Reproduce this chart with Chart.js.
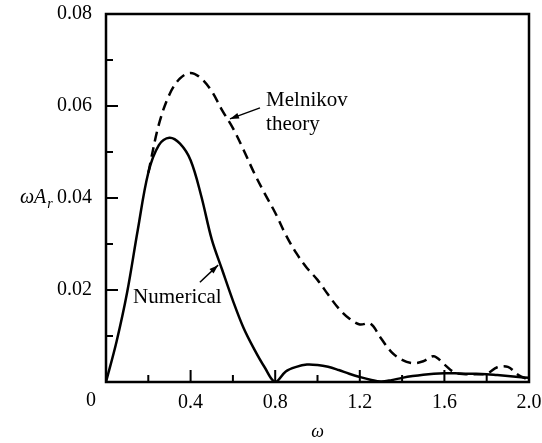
<!DOCTYPE html>
<html>
<head>
<meta charset="utf-8">
<script src="https://cdn.jsdelivr.net/npm/chart.js@4.4.1/dist/chart.umd.min.js"></script>
<style>
  html, body { margin: 0; padding: 0; background: #fff; }
  #wrap { width: 542px; height: 443px; }
</style>
</head>
<body>
<div id="wrap"><canvas id="chart"></canvas></div>
<script>
// omega grid (step 0.05)
const omega = [0, 0.05, 0.1, 0.15, 0.2, 0.25, 0.3, 0.35, 0.4, 0.45, 0.5, 0.55, 0.6, 0.65, 0.7, 0.75, 0.8,
               0.85, 0.9, 0.95, 1.0, 1.05, 1.1, 1.15, 1.2, 1.25, 1.3, 1.35, 1.4, 1.45, 1.5, 1.55, 1.6,
               1.65, 1.7, 1.75, 1.8, 1.85, 1.9, 1.95, 2.0];

// omega * A_r, numerical result (solid)
const numerical = [0, 0.0088, 0.0195, 0.033, 0.0455, 0.0515, 0.0531, 0.0518, 0.0482, 0.0405, 0.031, 0.0243, 0.0177, 0.0118, 0.0072, 0.0032, 0,
                   0.0023, 0.0033, 0.0038, 0.0037, 0.0033, 0.0026, 0.0018, 0.0011, 0.0005, 0.0001, 0.0004, 0.0009, 0.0013, 0.0016, 0.0018, 0.0019,
                   0.0019, 0.0018, 0.0018, 0.0017, 0.0015, 0.0013, 0.0011, 0.0009];

// Melnikov theory (dashed), only drawn where it leaves the numerical curve
const melnikov = [null, null, null, null, 0.0455, 0.056, 0.0625, 0.066, 0.0672, 0.066, 0.0632, 0.059, 0.0552, 0.0505, 0.0455, 0.041, 0.0368,
                  0.032, 0.028, 0.0248, 0.0222, 0.019, 0.016, 0.0138, 0.0125, 0.0127, 0.0095, 0.0065, 0.0048, 0.0041, 0.0045, 0.0056, 0.0038,
                  0.002, 0.0017, 0.0017, 0.0018, 0.0032, 0.0033, 0.0015, 0.0005];

const xTicks = [0, 0.4, 0.8, 1.2, 1.6, 2.0];
const xMinor = [0.2, 0.6, 1.0, 1.4, 1.8];
const yTicks = [0, 0.02, 0.04, 0.06, 0.08];
const yMinor = [0.01, 0.03, 0.05, 0.07];

const SERIF = '"Liberation Serif", "DejaVu Serif", serif';

function arrow(ctx, x0, y0, x1, y1) {
    ctx.beginPath();
    ctx.moveTo(x0, y0);
    ctx.lineTo(x1, y1);
    ctx.stroke();
    const a = Math.atan2(y1 - y0, x1 - x0);
    ctx.beginPath();
    ctx.moveTo(x1, y1);
    ctx.lineTo(x1 - 9 * Math.cos(a) + 3 * Math.sin(a), y1 - 9 * Math.sin(a) - 3 * Math.cos(a));
    ctx.lineTo(x1 - 9 * Math.cos(a) - 3 * Math.sin(a), y1 - 9 * Math.sin(a) + 3 * Math.cos(a));
    ctx.closePath();
    ctx.fill();
}

// box, inward ticks, labels and arrows
const decorations = {
    id: 'decorations',
    afterDraw(chart) {
        const { ctx, chartArea: a, scales: { x, y } } = chart;
        ctx.save();
        ctx.strokeStyle = '#000';
        ctx.fillStyle = '#000';
        ctx.lineWidth = 2.5;
        ctx.strokeRect(a.left, a.top, a.right - a.left, a.bottom - a.top);

        ctx.lineWidth = 2;
        ctx.beginPath();
        xTicks.slice(1, -1).forEach(v => { const px = x.getPixelForValue(v); ctx.moveTo(px, a.bottom); ctx.lineTo(px, a.bottom - 12); });
        xMinor.forEach(v => { const px = x.getPixelForValue(v); ctx.moveTo(px, a.bottom); ctx.lineTo(px, a.bottom - 7); });
        yTicks.slice(1, -1).forEach(v => { const py = y.getPixelForValue(v); ctx.moveTo(a.left, py); ctx.lineTo(a.left + 12, py); });
        yMinor.forEach(v => { const py = y.getPixelForValue(v); ctx.moveTo(a.left, py); ctx.lineTo(a.left + 7, py); });
        ctx.stroke();

        // shared origin label
        ctx.font = '20px ' + SERIF;
        ctx.textAlign = 'center';
        ctx.textBaseline = 'middle';
        ctx.fillText('0', a.left - 15, a.bottom + 19);

        // y axis title: omega A_r
        ctx.textAlign = 'left';
        ctx.font = 'italic 20px ' + SERIF;
        const ty = y.getPixelForValue(0.04);
        ctx.fillText('\u03C9A', 20, ty);
        const w = ctx.measureText('\u03C9A').width;
        ctx.font = 'italic 14px ' + SERIF;
        ctx.fillText('r', 20 + w + 1, ty + 6);

        // annotations
        ctx.font = '21px ' + SERIF;
        ctx.fillText('Numerical', x.getPixelForValue(0.128), y.getPixelForValue(0.0184));
        ctx.fillText('Melnikov', x.getPixelForValue(0.757), y.getPixelForValue(0.0611));
        ctx.fillText('theory', x.getPixelForValue(0.757), y.getPixelForValue(0.0559));

        ctx.lineWidth = 1.5;
        arrow(ctx, x.getPixelForValue(0.444), y.getPixelForValue(0.0217), x.getPixelForValue(0.530), y.getPixelForValue(0.0254));
        arrow(ctx, x.getPixelForValue(0.728), y.getPixelForValue(0.0596), x.getPixelForValue(0.586), y.getPixelForValue(0.0572));
        ctx.restore();
    }
};

new Chart(document.getElementById('chart'), {
    type: 'line',
    data: {
        datasets: [
            {
                label: 'Numerical',
                data: omega.map((w, i) => ({ x: w, y: numerical[i] })),
                borderColor: '#000',
                borderWidth: 2.5,
                pointRadius: 0,
                fill: false,
                tension: 0.35
            },
            {
                label: 'Melnikov theory',
                data: omega.map((w, i) => ({ x: w, y: melnikov[i] })),
                borderColor: '#000',
                borderWidth: 2.5,
                borderDash: [10, 6],
                pointRadius: 0,
                fill: false,
                spanGaps: false,
                tension: 0.35
            }
        ]
    },
    options: {
        responsive: true,
        maintainAspectRatio: false,
        animation: false,
        layout: { padding: { left: 0, right: 13, top: 14, bottom: 0 } },
        plugins: { legend: { display: false }, tooltip: { enabled: false } },
        scales: {
            x: {
                type: 'linear',
                min: 0,
                max: 2,
                afterBuildTicks: s => { s.ticks = xTicks.map(v => ({ value: v })); },
                afterFit: s => { s.height = 61; s.paddingLeft = 0; s.paddingRight = 0; },
                ticks: {
                    color: '#000',
                    font: { family: SERIF, size: 20 },
                    padding: 9,
                    maxRotation: 0,
                    callback: v => v === 0 ? '' : v.toFixed(1)
                },
                grid: { display: false, drawTicks: false },
                border: { display: false },
                title: {
                    display: true,
                    text: '\u03C9',
                    color: '#000',
                    font: { family: SERIF, size: 18, style: 'italic' },
                    padding: { top: 0, bottom: 0 }
                }
            },
            y: {
                min: 0,
                max: 0.08,
                afterBuildTicks: s => { s.ticks = yTicks.map(v => ({ value: v })); },
                afterFit: s => { s.width = 106; s.paddingTop = 0; s.paddingBottom = 0; },
                ticks: {
                    color: '#000',
                    font: { family: SERIF, size: 20 },
                    padding: 14,
                    callback: v => v === 0 ? '' : v.toFixed(2)
                },
                grid: { display: false, drawTicks: false },
                border: { display: false }
            }
        }
    },
    plugins: [decorations]
});
</script>
</body>
</html>
